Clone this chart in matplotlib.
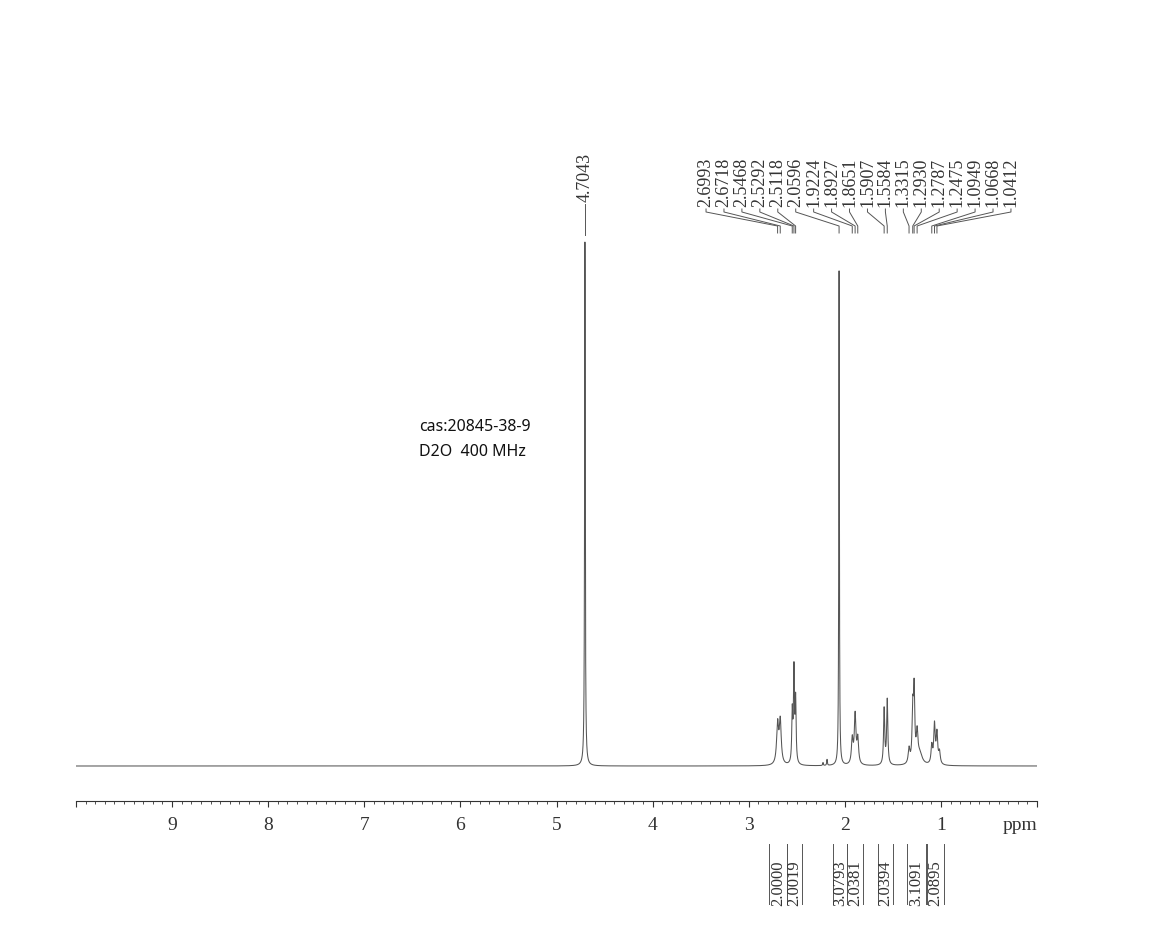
"""1H NMR spectrum (D2O, 400 MHz) redrawn with matplotlib."""

import matplotlib
matplotlib.use("Agg")

import matplotlib.pyplot as plt
import matplotlib.transforms as mtransforms
from matplotlib.ticker import MultipleLocator, FuncFormatter
import numpy as np

W, H = 1164, 953

# ── Data ──────────────────────────────────────────────────────────────────────

# resonances making up the trace: position (ppm), height, half width (ppm)
line_ppm = [4.7043, 2.6993, 2.6718, 2.5468, 2.5292, 2.5118, 2.227, 2.185,
            2.0596, 1.9224, 1.8927, 1.8651, 1.5907, 1.5584, 1.3315, 1.2930,
            1.2787, 1.2475, 1.22, 1.0949, 1.0668, 1.0412, 1.015]
line_height = [524, 40, 43, 50, 92, 62, 3, 6,
               495, 25, 49, 25, 56, 65, 15, 50,
               70, 28, 11, 18, 39, 30, 12]
line_hwhm = [0.004, 0.012, 0.012, 0.006, 0.006, 0.006, 0.004, 0.004,
             0.0035, 0.01, 0.01, 0.01, 0.007, 0.007, 0.01, 0.008,
             0.008, 0.01, 0.03, 0.009, 0.009, 0.009, 0.01]

solvent_ppm = 4.7043
peak_labels = [2.6993, 2.6718, 2.5468, 2.5292, 2.5118, 2.0596, 1.9224, 1.8927,
               1.8651, 1.5907, 1.5584, 1.3315, 1.2930, 1.2787, 1.2475, 1.0949,
               1.0668, 1.0412]

integral_values = ["2.0000", "2.0019", "3.0793", "2.0381", "2.0394", "3.1091", "2.0895"]
integral_from = [2.79, 2.60, 2.12, 1.977, 1.655, 1.353, 1.145]
integral_to = [2.60, 2.445, 1.977, 1.81, 1.50, 1.155, 0.968]

# ── Trace ─────────────────────────────────────────────────────────────────────

ppm = np.linspace(10, 0, 40001)
trace = np.zeros_like(ppm)
for x0, h, w in zip(line_ppm, line_height, line_hwhm):
    trace += h / (1 + ((ppm - x0) / w) ** 2)

SERIF = "Liberation Serif"
INK = "#333333"
LINE = "#555555"

fig = plt.figure(figsize=(W / 100, H / 100), dpi=100)
fig.patch.set_facecolor("white")
ax = fig.add_axes([76 / W, (H - 802) / H, 961 / W, (802 - 130) / H])
ax.plot(ppm, trace, color=LINE, linewidth=0.75)
ax.set_xlim(10, 0)
ax.set_ylim(-35, 637)

for side in ("top", "left", "right"):
    ax.spines[side].set_visible(False)
ax.spines["bottom"].set_color(INK)
ax.spines["bottom"].set_linewidth(0.8)
ax.set_yticks([])
ax.xaxis.set_major_locator(MultipleLocator(1))
ax.xaxis.set_minor_locator(MultipleLocator(0.1))
ax.xaxis.set_major_formatter(
    FuncFormatter(lambda v, _: "" if round(v) in (0, 10) else f"{v:.0f}"))
ax.tick_params(axis="x", which="major", length=4.5, width=0.8, color=INK,
               pad=6, labelsize=14, labelcolor=INK)
ax.tick_params(axis="x", which="minor", length=2.2, width=0.6, color=INK)
for lab in ax.get_xticklabels():
    lab.set_family(SERIF)

fy = lambda ypx: 1 - ypx / H
trans = mtransforms.blended_transform_factory(ax.transData, fig.transFigure)

fig.text(1020 / W, fy(826), "ppm", fontsize=14, family=SERIF, color=INK,
         ha="center", va="center")

# ── Peak labels ───────────────────────────────────────────────────────────────

ax.text(solvent_ppm, fy(202), f"{solvent_ppm:.4f}", transform=trans,
        rotation=90, ha="center", va="bottom", fontsize=13, family=SERIF,
        color=INK)
ax.plot([solvent_ppm, solvent_ppm], [fy(205), fy(236)], transform=trans,
        color=LINE, linewidth=0.7, clip_on=False)

label_x = np.linspace(3.444, 0.271, len(peak_labels))
for lx, p in zip(label_x, peak_labels):
    ax.text(lx, fy(207), f"{p:.4f}", transform=trans, rotation=90,
            ha="center", va="bottom", fontsize=13, family=SERIF, color=INK)
    ax.plot([lx, lx, p, p], [fy(210), fy(213), fy(227), fy(234)],
            transform=trans, color=LINE, linewidth=0.7, clip_on=False)

# ── Integrals ─────────────────────────────────────────────────────────────────

for val, a, b in zip(integral_values, integral_from, integral_to):
    for edge in (a, b):
        ax.plot([edge, edge], [fy(845), fy(905)], transform=trans,
                color=LINE, linewidth=0.7, clip_on=False)
    ax.text((a + b) / 2, fy(906), val, transform=trans, rotation=90,
            ha="center", va="bottom", fontsize=12, family=SERIF, color=INK)

# ── Sample note ───────────────────────────────────────────────────────────────

fig.text(419 / W, fy(427), "cas:20845-38-9", fontsize=11.5, family="Noto Sans",
         color="#111111", ha="left", va="center")
fig.text(419 / W, fy(452), "D2O  400 MHz", fontsize=11.5, family="Noto Sans",
         color="#111111", ha="left", va="center")

fig.savefig("out.png", dpi=100, facecolor="white")
